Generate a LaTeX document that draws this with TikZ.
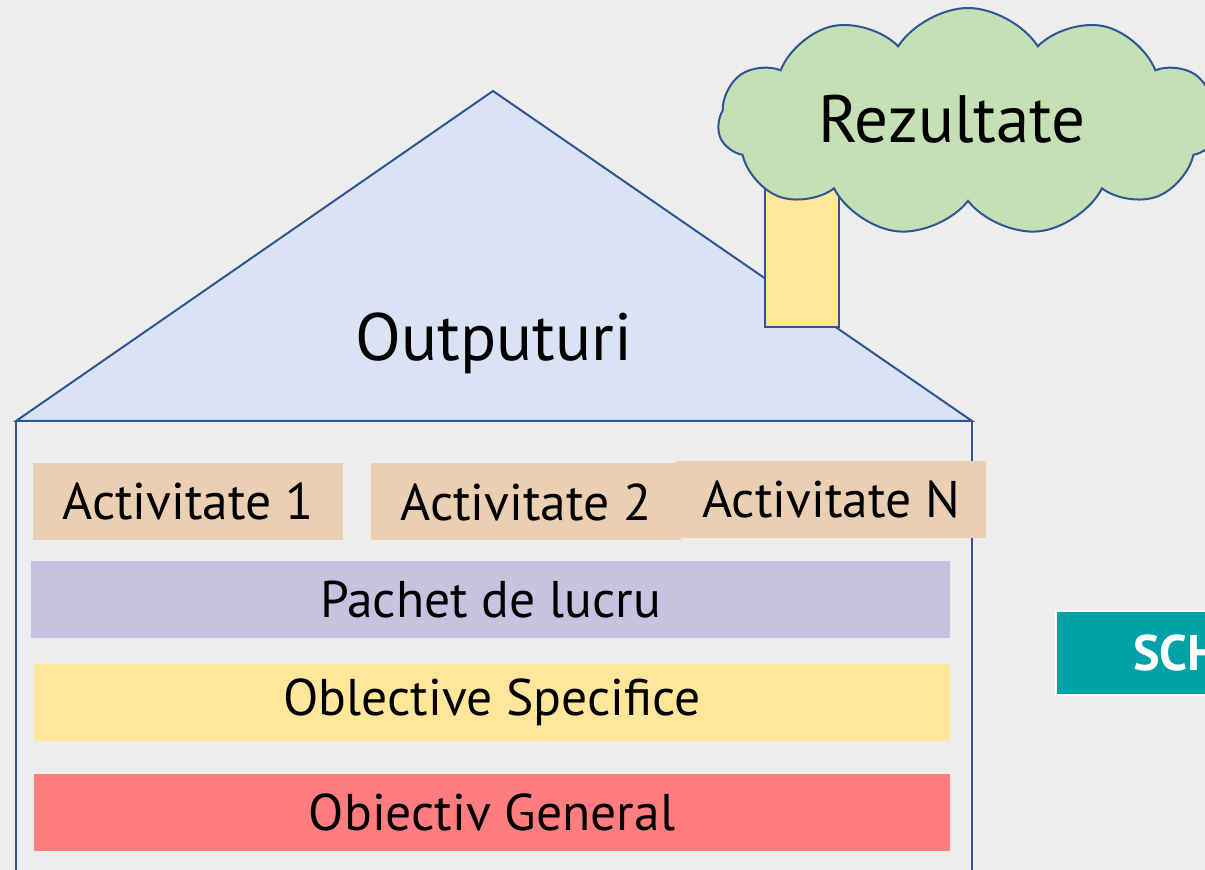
\documentclass[tikz,border=0pt]{standalone}
\usepackage{fontspec}
\setmainfont{PT Sans}
\usepackage{tikz}
\usetikzlibrary{shapes.symbols}
\usetikzlibrary{positioning}

\definecolor{fundal}{HTML}{EDEDED}
\definecolor{albastru}{HTML}{2F5597}
\definecolor{acoperis}{HTML}{DAE3F3}
\definecolor{nor}{HTML}{C5E0B4}
\definecolor{galben}{HTML}{FFE699}
\definecolor{bej}{HTML}{EACFB2}
\definecolor{lila}{HTML}{C8C2E0}
\definecolor{rosu}{HTML}{FF7C80}
\definecolor{turcoaz}{HTML}{00A2A8}

\tikzset{
  linie/.style={draw=albastru, line width=1pt},
  bloc/.style={inner sep=0pt, minimum height=38.5pt, font=\fontsize{25.8}{30}\selectfont},
  mare/.style={font=\fontsize{33.5}{38}\selectfont}
}

\begin{document}
\begin{tikzpicture}[x=0.5pt, y=-0.5pt]

\useasboundingbox (0,0) rectangle (1205,870);
\clip (0,0) rectangle (1205,870);
\fill[fundal] (0,0) rectangle (1205,870);

% Casa
\draw[linie, fill=acoperis, line join=miter] (16,421) coordinate (roofL) -- (493,91) coordinate (apex) -- (972,421) coordinate (roofR) -- cycle;
\draw[linie] (roofL) -- (16,880);
\draw[linie] (roofR) -- (972,880);
\node[mare] at (494,343) (outputuri) {Outputuri};

% Cos si nor
\draw[linie, fill=galben] (765,170) rectangle (839,327);
\node[cloud, cloud puffs=11, cloud puff arc=115, aspect=2.2, linie, fill=nor,
      minimum width=250pt, minimum height=114pt, inner sep=0pt] at (968,122) (nor) {};
\node[mare] at (952,119) (rezultate) {Rezultate};

% Blocuri
\node[bloc, fill=bej, minimum width=155pt] at (188,501.5) (act1) {Activitate 1};
\node[bloc, fill=bej, minimum width=155pt] at (526,502) (act2) {Activitate 2};
\node[bloc, fill=bej, minimum width=155pt] at (831,499.5) (actN) {Activitate N};
\node[bloc, fill=lila, minimum width=459.5pt] at (490.5,599.5) (pachet) {Pachet de lucru};
\node[bloc, fill=galben, minimum width=458pt] at (492,702.5) (specifice) {Oblective Specifice};
\node[bloc, fill=rosu, minimum width=458pt] at (492,812.5) (general) {Obiectiv General};

% Eticheta din dreapta
\node[anchor=west, fill=turcoaz, draw=white, line width=1pt, text=white,
      minimum height=42pt, inner xsep=38.5pt, inner ysep=0pt,
      font=\fontsize{25}{30}\selectfont\bfseries] at (1055,653) (sch) {SCH};

\end{tikzpicture}
\end{document}
